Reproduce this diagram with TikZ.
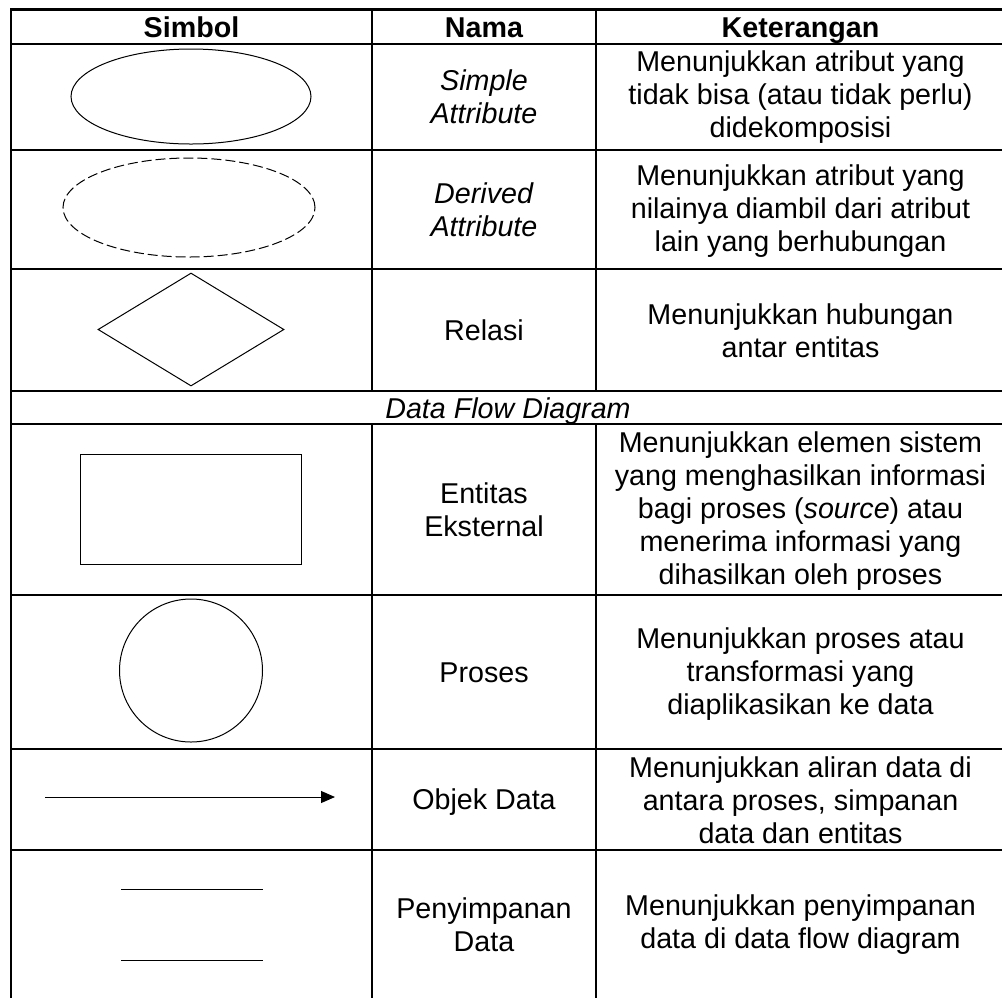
\documentclass[tikz,border=0pt]{standalone}
\usepackage{fontspec}
\setmainfont{Liberation Sans}
\usetikzlibrary{shapes.geometric,arrows.meta}

\begin{document}
\begin{tikzpicture}
    [x=0.75pt, y=-0.75pt,
    font=\fontsize{21.5}{24.8}\selectfont,
    grid/.style={line width=2pt},
    cell/.style={align=center, inner sep=0pt},
    head/.style={cell, anchor=base, font=\fontsize{21.5}{24.8}\selectfont\bfseries},
    oneline/.style={cell, anchor=base},
    symbol/.style={draw, line width=0.75pt, inner sep=0pt},
    flow/.style={line width=0.75pt, -{Triangle[length=10.5pt, width=9pt]}}
    ]
    \useasboundingbox (0,0) rectangle (1002,997);
    \clip (0,0) rectangle (1002,997);

    \draw [grid] (11,1010) -- (11,9.5) -- (1005,9.5) -- (1005,1010);
    \draw [grid] (11,44) -- (1005,44);
    \draw [grid] (11,150) -- (1005,150);
    \draw [grid] (11,269) -- (1005,269);
    \draw [grid] (11,391) -- (1005,391);
    \draw [grid] (11,424) -- (1005,424);
    \draw [grid] (11,595) -- (1005,595);
    \draw [grid] (11,749) -- (1005,749);
    \draw [grid] (11,850) -- (1005,850);
    \draw [grid] (372,9.5) -- (372,391) (372,424) -- (372,1010);
    \draw [grid] (596,9.5) -- (596,391) (596,424) -- (596,1010);

    \node [head] (simbol) at (191.5,37) {Simbol};
    \node [head] (nama) at (484,37) {Nama};
    \node [head] (keterangan) at (800.5,37) {Keterangan};

    \node [symbol, ellipse, minimum width=180pt, minimum height=71.25pt] (simple) at (191,96.5) {};
    \node [cell] (simple name) at (484,97) {\textit{Simple}\\\textit{Attribute}};
    \node [cell] (simple text) at (800.5,97) {Menunjukkan atribut yang\\tidak bisa (atau tidak perlu)\\didekomposisi};

    \node [symbol, ellipse, dash pattern=on 7.5pt off 3pt, minimum width=189pt, minimum height=74.25pt] (derived) at (189,207.5) {};
    \node [cell] (derived name) at (484,209.5) {\textit{Derived}\\\textit{Attribute}};
    \node [cell] (derived text) at (800.5,211) {Menunjukkan atribut yang\\nilainya diambil dari atribut\\lain yang berhubungan};

    \node [symbol, diamond, minimum width=139.5pt, minimum height=84.75pt] (relasi) at (191,329.5) {};
    \node [oneline] (relasi name) at (484,340) {Relasi};
    \node [cell] (relasi text) at (800.5,331) {Menunjukkan hubungan\\antar entitas};

    \node [oneline] (dfd) at (508,418) {\textit{Data Flow Diagram}};

    \node [symbol, rectangle, minimum width=165.75pt, minimum height=82.5pt] (entitas) at (190.5,509) {};
    \node [cell] (entitas name) at (484,509.5) {Entitas\\Eksternal};
    \node [cell] (entitas text) at (800.5,511) {Menunjukkan elemen sistem\\yang menghasilkan informasi\\bagi proses (\textit{source}) atau\\menerima informasi yang\\dihasilkan oleh proses};

    \node [symbol, circle, minimum size=107.25pt] (proses) at (191,670.5) {};
    \node [oneline] (proses name) at (484,682) {Proses};
    \node [cell] (proses text) at (800.5,674) {Menunjukkan proses atau\\transformasi yang\\diaplikasikan ke data};

    \coordinate (flow start) at (45,797);
    \coordinate (flow end) at (335,797);
    \draw [flow] (flow start) -- (flow end);
    \node [oneline] (objek name) at (484,809.5) {Objek Data};
    \node [cell] (objek text) at (800.5,800) {Menunjukkan aliran data di\\antara proses, simpanan\\data dan entitas};

    \coordinate (store a) at (121,889);
    \coordinate (store b) at (263,889);
    \coordinate (store c) at (121,960);
    \coordinate (store d) at (263,960);
    \draw [line width=0.75pt] (store a) -- (store b) (store c) -- (store d);
    \node [cell] (store name) at (484,925) {Penyimpanan\\Data};
    \node [cell] (store text) at (800.5,925) {Menunjukkan penyimpanan\\data di data flow diagram};
\end{tikzpicture}
\end{document}
